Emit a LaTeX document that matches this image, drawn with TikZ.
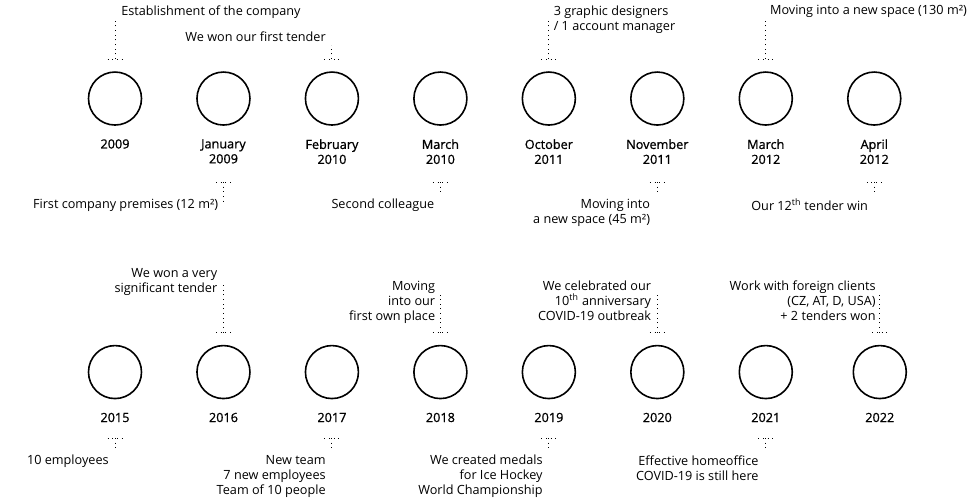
\documentclass[tikz,border=0pt]{standalone}
\usepackage{fontspec}
\setmainfont{Open Sans}
\newfontfamily\yearfont[FakeBold=1]{Open Sans}
\usetikzlibrary{positioning}

\begin{document}
\begin{tikzpicture}[
  year/.style={
    draw,
    circle,
    line width=1.2pt,
    minimum size=39.75pt,
    inner sep=0pt,
    outer sep=0pt
  },
  date/.style={
    align=center,
    inner sep=0pt,
    font=\fontsize{9.5}{11.25}\selectfont\yearfont
  },
  note/.style={inner sep=0pt,font=\fontsize{9.5}{11.25}\selectfont},
  noteleft/.style={note,align=left,anchor=north west},
  noteright/.style={note,align=right,anchor=north east},
  link/.style={line width=0.7pt,dash pattern=on 0.7pt off 2.8pt}
]
  \useasboundingbox (0,0) rectangle (731.25pt,-372.75pt);

  % first row
  \node[year] (c09) at (86.25pt,-73.9pt) {};
  \node[year,right=41.6pt of c09] (j09) {};
  \node[year,right=41.6pt of j09] (f10) {};
  \node[year,right=41.6pt of f10] (m10) {};
  \node[year,right=41.6pt of m10] (o11) {};
  \node[year,right=41.6pt of o11] (n11) {};
  \node[year,right=41.6pt of n11] (m12) {};
  \node[year,right=41.6pt of m12] (a12) {};

  \node[date,below=10.5pt of c09] (d09) {2009};
  \node[date,below=10.5pt of j09] (dj09) {January\\2009};
  \node[date,below=10.5pt of f10] (df10) {February\\2010};
  \node[date,below=10.5pt of m10] (dm10) {March\\2010};
  \node[date,below=10.5pt of o11] (do11) {October\\2011};
  \node[date,below=10.5pt of n11] (dn11) {November\\2011};
  \node[date,below=10.5pt of m12] (dm12) {March\\2012};
  \node[date,below=10.5pt of a12] (da12) {April\\2012};

  % second row
  \node[year,below=165.4pt of c09] (c15) {};
  \node[year,right=41.6pt of c15] (c16) {};
  \node[year,right=41.6pt of c16] (c17) {};
  \node[year,right=41.6pt of c17] (c18) {};
  \node[year,right=41.6pt of c18] (c19) {};
  \node[year,right=41.6pt of c19] (c20) {};
  \node[year,right=41.6pt of c20] (c21) {};
  \node[year,right=45.75pt of c21] (c22) {};

  \node[date,below=10.5pt of c15] (d15) {2015};
  \node[date,below=10.5pt of c16] (d16) {2016};
  \node[date,below=10.5pt of c17] (d17) {2017};
  \node[date,below=10.5pt of c18] (d18) {2018};
  \node[date,below=10.5pt of c19] (d19) {2019};
  \node[date,below=10.5pt of c20] (d20) {2020};
  \node[date,below=10.5pt of c21] (d21) {2021};
  \node[date,below=10.5pt of c22] (d22) {2022};

  % leaders of the first row
  \coordinate[above=9.75pt of c09] (t09);
  \coordinate[above=29.25pt of t09] (e09);
  \coordinate[above=9.75pt of f10] (tf10);
  \coordinate[above=10.5pt of tf10] (ef10);
  \coordinate[above=9.75pt of o11] (to11);
  \coordinate[above=29.25pt of to11] (eo11);
  \coordinate[above=9.75pt of m12] (tm12);
  \coordinate[above=29.25pt of tm12] (em12);
  \coordinate[below=42.75pt of j09] (tj09);
  \coordinate[below=16.5pt of tj09] (ej09);
  \coordinate[below=42.75pt of m10] (tm10);
  \coordinate[below=8.25pt of tm10] (em10);
  \coordinate[below=42.75pt of n11] (tn11);
  \coordinate[below=8.25pt of tn11] (en11);
  \coordinate[below=42.75pt of a12] (ta12);
  \coordinate[below=8.25pt of ta12] (ea12);

  % leaders of the second row
  \coordinate[above=9.75pt of c16] (t16);
  \coordinate[above=36pt of t16] (e16);
  \coordinate[above=9.75pt of c18] (t18);
  \coordinate[above=28.5pt of t18] (e18);
  \coordinate[above=9.75pt of c20] (t20);
  \coordinate[above=28.5pt of t20] (e20);
  \coordinate[above=9.75pt of c22] (t22);
  \coordinate[above=28.5pt of t22] (e22);
  \coordinate[below=29.6pt of c15] (t15);
  \coordinate[below=9.75pt of t15] (e15);
  \coordinate[below=29.6pt of c17] (t17);
  \coordinate[below=9.75pt of t17] (e17);
  \coordinate[below=29.6pt of c19] (t19);
  \coordinate[below=9.75pt of t19] (e19);
  \coordinate[below=29.6pt of c21] (t21);
  \coordinate[below=9.75pt of t21] (e21);

  \foreach \t/\e in {t09/e09,tf10/ef10,to11/eo11,tm12/em12,tj09/ej09,tm10/em10,tn11/en11,ta12/ea12,
                     t16/e16,t18/e18,t20/e20,t22/e22,t15/e15,t17/e17,t19/e19,t21/e21}
    \draw[link] ([xshift=-5.6pt]\t) -- ([xshift=5.6pt]\t) (\t) -- (\e);

  % events
  \node[noteleft] (l09) at ([xshift=4.5pt,yshift=11pt]e09) {Establishment of the company};
  \node[noteright] (lf10) at ([xshift=-4.5pt,yshift=10.25pt]ef10) {We won our first tender};
  \node[noteleft] (lo11) at ([xshift=3.5pt,yshift=11pt]eo11) {3 graphic designers\\/ 1 account manager};
  \node[noteleft] (lm12) at ([xshift=3pt,yshift=11pt]em12) {Moving into a new space (130 m²)};
  \node[noteright] (lj09) at ([xshift=-3.75pt,yshift=4pt]ej09) {First company premises (12 m²)};
  \node[noteright] (lm10) at ([xshift=-4.5pt,yshift=-4.3pt]em10) {Second colleague};
  \node[noteright] (ln11) at ([xshift=-5.25pt,yshift=-4.3pt]en11) {Moving into\\a new space (45 m²)};
  \node[noteright] (la12) at ([xshift=-4.5pt,yshift=-4.3pt]ea12) {Our 12\textsuperscript{th} tender win};

  \node[noteright] (l16) at ([xshift=-4.5pt,yshift=12.2pt]e16) {We won a very\\significant tender};
  \node[noteright] (l18) at ([xshift=-3.75pt,yshift=10.6pt]e18) {Moving\\into our\\first own place};
  \node[noteright] (l20) at ([xshift=-4.5pt,yshift=10.6pt]e20) {We celebrated our\\10\textsuperscript{th} anniversary\\COVID-19 outbreak};
  \node[noteright] (l22) at ([xshift=-3pt,yshift=10.6pt]e22) {Work with foreign clients\\(CZ, AT, D, USA)\\+ 2 tenders won};
  \node[noteright] (l15) at ([xshift=-4.5pt,yshift=-3pt]e15) {10 employees};
  \node[noteright] (l17) at ([xshift=-4.5pt,yshift=-3pt]e17) {New team\\7 new employees\\Team of 10 people};
  \node[noteright] (l19) at ([xshift=-4.5pt,yshift=-3pt]e19) {We created medals\\for Ice Hockey\\World Championship};
  \node[noteright] (l21) at ([xshift=-5.25pt,yshift=-3pt]e21) {Effective homeoffice\\COVID-19 is still here};
\end{tikzpicture}
\end{document}
